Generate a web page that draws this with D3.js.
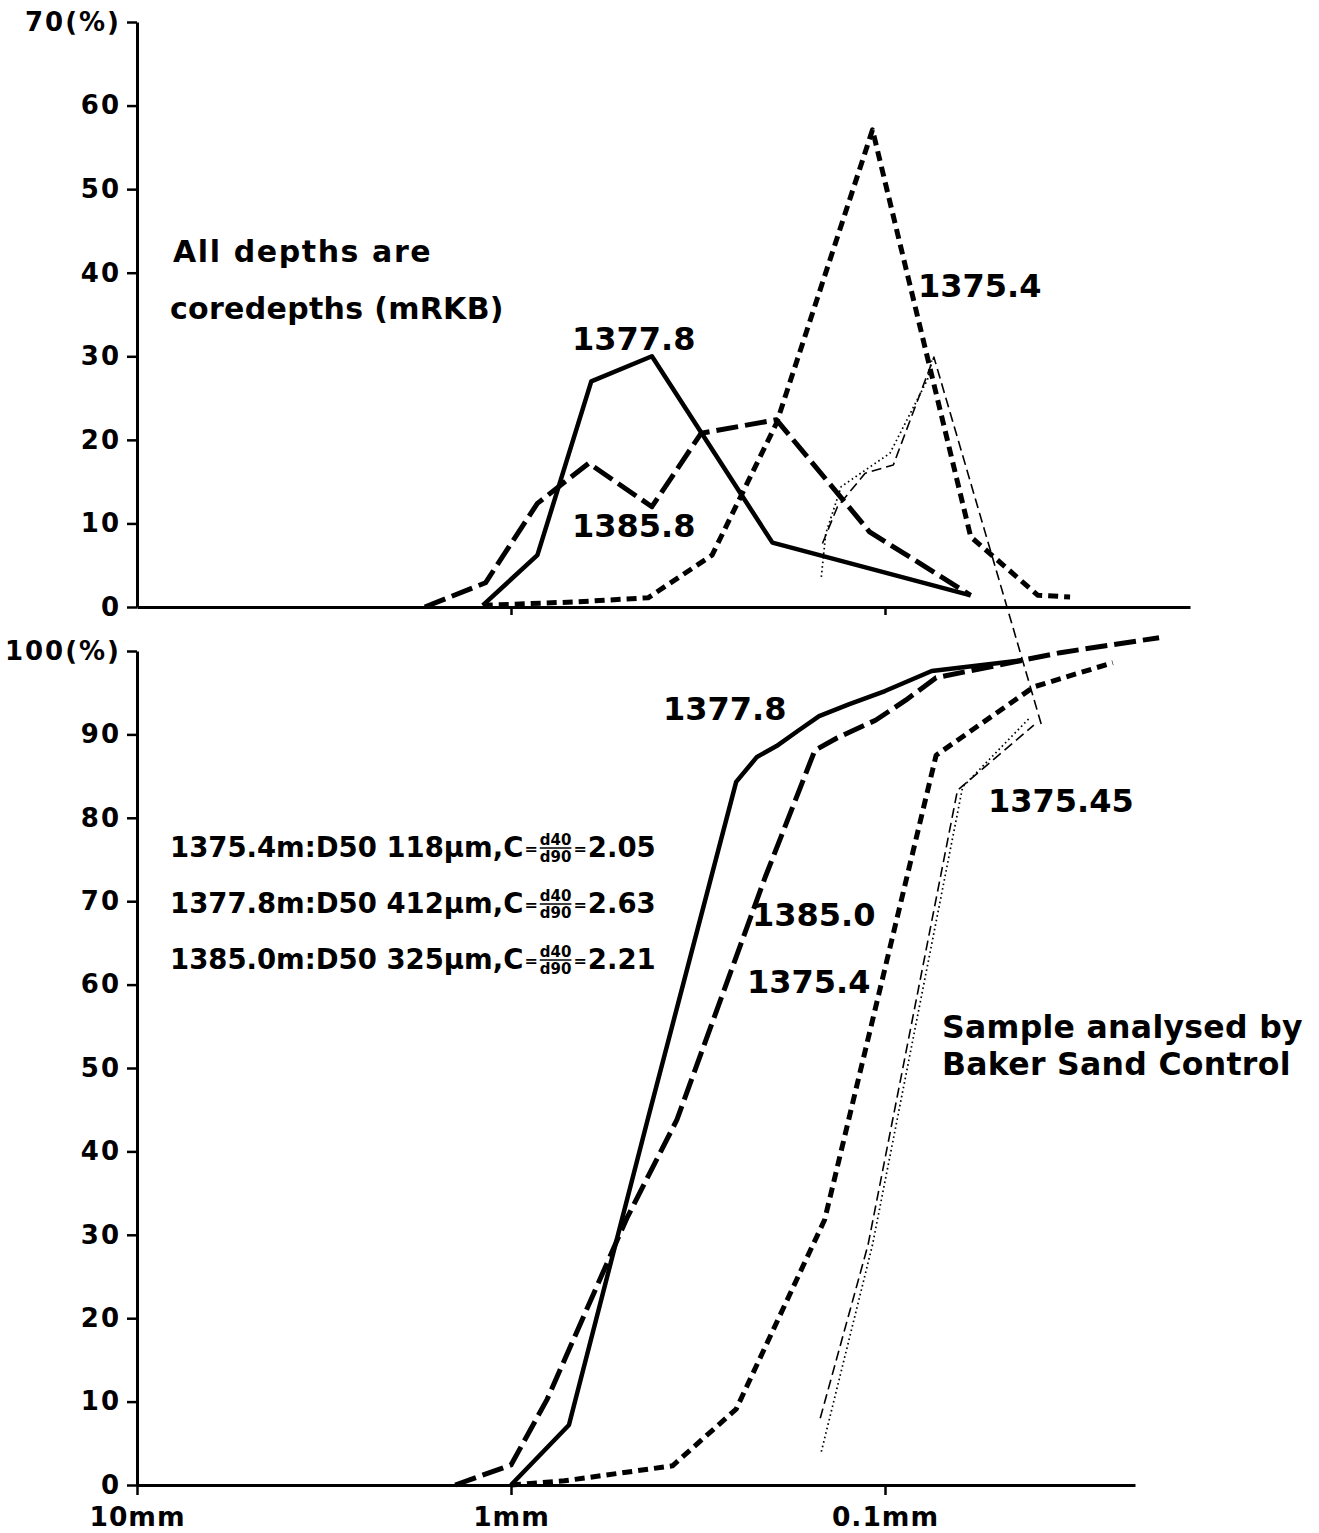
<!DOCTYPE html>
<html>
<head>
<meta charset="utf-8">
<script src="https://cdn.jsdelivr.net/npm/d3@7"></script>
<style>
body{margin:0;background:#fff;}
svg text{font-family:"DejaVu Sans",sans-serif;font-weight:bold;fill:#000;}
</style>
</head>
<body>
<svg id="chart" width="1319" height="1533"></svg>
<script>
// grain size (mm), percent -- upper panel: weight % per sieve fraction
var freq1377_8 = [[1.19,0.2],[0.85,6.2],[0.61,27],[0.42,30],[0.20,7.7],[0.059,1.4]];
var freq1385_8 = [[1.70,0],[1.17,2.9],[0.85,12.4],[0.62,17.2],[0.42,12.0],[0.31,20.8],[0.195,22.4],[0.11,9.0],[0.059,1.4]];
var freq1375_4 = [[1.19,0.2],[0.68,0.6],[0.43,1.1],[0.29,6.2],[0.195,22],[0.108,57.1],[0.059,8.4],[0.039,1.4],[0.032,1.2]];
var freq1375_45dash = [[0.147,7.6],[0.134,12.0],[0.113,16.0],[0.095,17.0],[0.074,29.9],[0.038,-14.4]];
var freq1375_45dot = [[0.148,3.6],[0.144,8.8],[0.131,14.4],[0.097,18.4],[0.077,27.2],[0.075,29.5]];

// lower panel: cumulative weight %
var cum1377_8 = [[1.0,0],[0.70,7.2],[0.43,44],[0.25,84.3],[0.22,87.3],[0.195,88.6],[0.17,90.5],[0.15,92.2],[0.125,93.6],[0.10,95.2],[0.075,97.6],[0.043,98.9]];
var cum1385_0 = [[1.41,0],[1.0,2.4],[0.80,10.3],[0.49,32],[0.36,43.8],[0.209,72.9],[0.154,88.1],[0.134,89.6],[0.106,91.7],[0.088,94.1],[0.073,96.8],[0.034,99.8],[0.0185,101.6]];
var cum1375_4 = [[1.0,0],[0.72,0.5],[0.37,2.3],[0.25,9.1],[0.145,31.8],[0.073,87.5],[0.040,95.7],[0.0246,98.6]];
var cum1375_45dash = [[0.149,8.0],[0.111,28.8],[0.064,83.3],[0.040,91.1]];
var cum1375_45dot = [[0.148,4.0],[0.108,28.8],[0.062,83.7],[0.041,92.0]];

var topTicks = [0,10,20,30,40,50,60,70];
var botTicks = [0,10,20,30,40,50,60,70,80,90,100];
var sizeTicks = [10,1,0.1];
var sizeLabels = ["10mm","1mm","0.1mm"];

var legendRows = [
	{depth:"1375.4m", d50:"118", c:"2.05"},
	{depth:"1377.8m", d50:"412", c:"2.63"},
	{depth:"1385.0m", d50:"325", c:"2.21"}
];

var svg = d3.select("#chart");
var x = d3.scaleLog().domain([10,0.1]).range([137,885]);
var yTop = d3.scaleLinear().domain([0,70]).range([607,22]);
var yBot = d3.scaleLinear().domain([0,100]).range([1485,651]);

var styles = {
	solid:{w:4.5,dash:null},
	longDash:{w:5,dash:"22,7"},
	shortDash:{w:5,dash:"10,6"},
	thinDash:{w:1.6,dash:"10,5"},
	dotted:{w:1.7,dash:"1.6,3"}
};

function styleAxis(g,fs,ls){
	g.attr("font-family",null).attr("font-size",null);
	g.select(".domain").attr("stroke-width",3);
	g.selectAll(".tick line").attr("stroke-width",2.5);
	g.selectAll(".tick text").style("font-size",fs+"px").style("letter-spacing",ls+"px");
}

// axes upper
var gTopY = svg.append("g").attr("transform","translate(137,0)")
	.call(d3.axisLeft(yTop).tickValues(topTicks).tickSize(10).tickSizeOuter(0).tickPadding(6)
		.tickFormat(function(d){return d===70?"70(%)":d;}));
styleAxis(gTopY,26,2);
var xTopScale = x.copy().domain([10,x.invert(1190)]).range([137,1190]);
var gTopX = svg.append("g").attr("transform","translate(0,607)")
	.call(d3.axisBottom(xTopScale).tickValues([1,0.1]).tickSize(8).tickSizeOuter(0).tickFormat(""));
styleAxis(gTopX,25,0);

// axes lower
var gBotY = svg.append("g").attr("transform","translate(137,0)")
	.call(d3.axisLeft(yBot).tickValues(botTicks).tickSize(10).tickSizeOuter(0).tickPadding(6)
		.tickFormat(function(d){return d===100?"100(%)":d;}));
styleAxis(gBotY,26,2);
var xBotScale = x.copy().domain([10,x.invert(1135)]).range([137,1135]);
var gBotX = svg.append("g").attr("transform","translate(0,1485)")
	.call(d3.axisBottom(xBotScale).tickValues(sizeTicks).tickSize(10).tickSizeOuter(0).tickPadding(12)
		.tickFormat(function(d,i){return sizeLabels[i];}));
styleAxis(gBotX,26.5,1);

function drawLine(data,y,st){
	svg.append("path").datum(data)
		.attr("d",d3.line().x(function(d){return x(d[0]);}).y(function(d){return y(d[1]);}))
		.attr("fill","none").attr("stroke","#000")
		.attr("stroke-width",st.w)
		.attr("stroke-dasharray",st.dash)
		.attr("stroke-linejoin","round");
}

drawLine(freq1377_8,yTop,styles.solid);
drawLine(freq1385_8,yTop,styles.longDash);
drawLine(freq1375_4,yTop,styles.shortDash);
drawLine(freq1375_45dash,yTop,styles.thinDash);
drawLine(freq1375_45dot,yTop,styles.dotted);

drawLine(cum1377_8,yBot,styles.solid);
drawLine(cum1385_0,yBot,styles.longDash);
drawLine(cum1375_4,yBot,styles.shortDash);
drawLine(cum1375_45dash,yBot,styles.thinDash);
drawLine(cum1375_45dot,yBot,styles.dotted);

function label(t,px,py,fs,ls){
	return svg.append("text").attr("x",px).attr("y",py)
		.style("font-size",fs+"px").style("letter-spacing",(ls||0)+"px").text(t);
}

// annotations
label("All depths are",173,262,30,1.6);
label("coredepths (mRKB)",170,319,30,0.3);
label("1377.8",572,350,32);
label("1385.8",572,537,32);
label("1375.4",918,297,32);
label("1377.8",663,720,32);
label("1375.45",988,812,32);
label("1385.0",752,926,32);
label("1375.4",747,993,32);
label("Sample analysed by",942,1038,31.5,0.3);
label("Baker Sand Control",942,1075,31.5,0.3);

// legend rows with fraction d40/d90
legendRows.forEach(function(r,i){
	var by = 857 + i*56, fs = 27.5;
	var t1 = label(r.depth+":D50 "+r.d50+"\u03bcm,C",170,by,fs);
	var x1 = 170 + t1.node().getComputedTextLength();
	var eq1 = label("=",x1+1,by-3,16);
	var fx = x1 + 1 + eq1.node().getComputedTextLength() + 2;
	var n = label("d40",fx,by-12,15);
	var fw = n.node().getComputedTextLength();
	label("d90",fx,by+5,15);
	svg.append("line").attr("x1",fx).attr("x2",fx+fw).attr("y1",by-9).attr("y2",by-9)
		.attr("stroke","#000").attr("stroke-width",1.5);
	var eq2 = label("=",fx+fw+2,by-3,16);
	label(r.c,fx+fw+2+eq2.node().getComputedTextLength()+1,by,fs);
});
</script>
</body>
</html>
